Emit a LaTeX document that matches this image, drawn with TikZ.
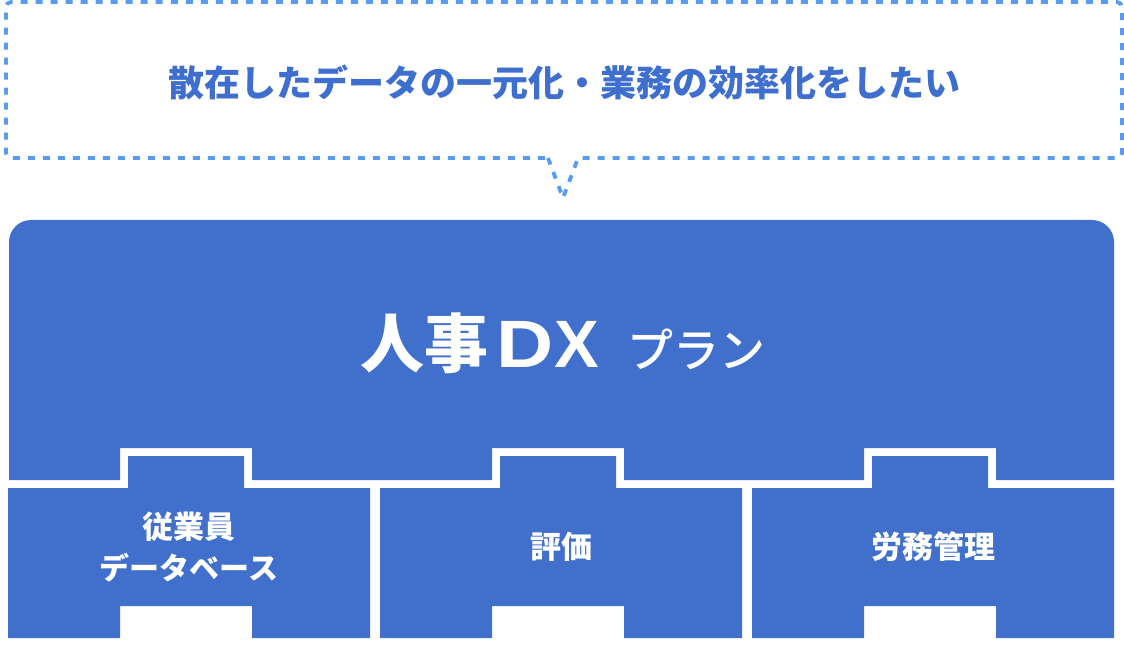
\documentclass[tikz,border=0pt]{standalone}
\usepackage{fontspec}
\newfontfamily\jp{Noto Sans CJK JP}
\newfontfamily\jpm{Noto Sans CJK JP Medium}
\newfontfamily\lat{Liberation Sans}
\definecolor{mainblue}{RGB}{65,112,204}
\definecolor{textblue}{RGB}{62,111,207}
\definecolor{dashblue}{RGB}{88,155,240}
\tikzset{
  piece/.style={fill=mainblue, draw=none},
  callout/.style={draw=dashblue, line width=3.8pt, dash pattern=on 7pt off 8pt},
  plabel/.style={text=white, font=\jp\bfseries\fontsize{31}{38}\selectfont, align=center, inner sep=0pt},
}
\begin{document}
\begin{tikzpicture}[x=1pt,y=-1pt]
\useasboundingbox (0,0) rectangle (1124,647);
% callout box with pointer
\draw[callout] (548,158) -- (563,198) -- (578,158)
  [rounded corners=5pt] -- (1122,158) -- (1122,2) -- (6,2) -- (6,158) [sharp corners] -- cycle;
\node[text=textblue, font=\jp\bfseries\fontsize{36}{40}\selectfont, inner sep=0pt] (title) at (564,82) {散在したデータの一元化・業務の効率化をしたい};
% top plan shape
\fill[piece] (9,480) [rounded corners=22pt] -- (9,220) -- (1114,220) [sharp corners] -- (1114,480)
  -- (996,480) -- (996,448) -- (864,448) -- (864,480)
  -- (624,480) -- (624,448) -- (492,448) -- (492,480)
  -- (252,480) -- (252,448) -- (120,448) -- (120,480) -- cycle;
\node[text=white, inner sep=0pt, anchor=base west] (plan) at (360,367) {\jp\bfseries\fontsize{64}{70}\selectfont 人事\hspace{8pt}\lat\bfseries\fontsize{67}{70}\selectfont \scalebox{1.18}[1]{D}\kern1pt X\hspace{29pt}\jpm\mdseries\fontsize{46}{50}\selectfont プラン};
% pieces
\foreach \a/\b/\n in {8/370/120, 380/742/492, 752/1114/864}{
  \fill[piece] (\a,488) -- (\n+8,488) -- (\n+8,456) -- (\n+124,456) -- (\n+124,488) -- (\b,488)
    -- (\b,638) -- (\n+132,638) -- (\n+132,606) -- (\n,606) -- (\n,638) -- (\a,638) -- cycle;
}
\node[plabel] (p1) at (189,547) {従業員\\[3pt]{\fontsize{30}{36}\selectfont データベース}};
\node[plabel] (p2) at (561,547) {評価};
\node[plabel] (p3) at (933,547) {労務管理};
\end{tikzpicture}
\end{document}
